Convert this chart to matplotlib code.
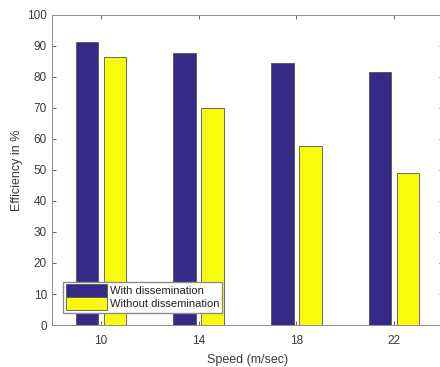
import matplotlib

matplotlib.use("Agg")

import matplotlib.pyplot as plt
import numpy as np

speeds = ["10", "14", "18", "22"]
with_dissemination = [91.2, 87.6, 84.6, 81.7]
without_dissemination = [86.3, 70.1, 57.6, 48.9]

plt.rcParams["font.family"] = ["Liberation Sans", "DejaVu Sans"]

BLUE = "#352a87"
YELLOW = "#f9fb0e"
EDGE = "#555555"
AXIS_GRAY = "#4d4d4d"
TEXT_GRAY = "#3a3a3a"

fig = plt.figure(figsize=(4.4, 3.67), dpi=100)
ax = fig.add_axes([0.118, 0.1144, 0.889, 0.845])

x = np.arange(1, len(speeds) + 1)
width = 0.23
offset = 0.143
ax.bar(x - offset, with_dissemination, width, color=BLUE, edgecolor=EDGE,
       linewidth=0.6, label="With dissemination")
ax.bar(x + offset, without_dissemination, width, color=YELLOW, edgecolor=EDGE,
       linewidth=0.6, label="Without dissemination")

ax.set_xlim(0.5, 4.5)
ax.set_ylim(0, 100)
ax.set_xticks(x)
ax.set_xticklabels(speeds)
ax.set_yticks(np.arange(0, 101, 10))
ax.tick_params(direction="in", top=True, right=True, length=3, width=0.6,
               color=AXIS_GRAY, labelcolor=TEXT_GRAY, labelsize=8.5)
ax.tick_params(axis="x", pad=7)
for spine in ax.spines.values():
    spine.set_color("#8c8c8c")
    spine.set_linewidth(0.7)

ax.set_xlabel("Speed (m/sec)", fontsize=9, color=TEXT_GRAY, labelpad=5)
ax.set_ylabel("Efficiency in %", fontsize=9, color=TEXT_GRAY, labelpad=3)

leg = ax.legend(loc="lower left", bbox_to_anchor=(0.028, 0.04), fontsize=8,
                fancybox=False, framealpha=1, edgecolor="#8c8c8c",
                handlelength=3.7, handleheight=1.35, borderpad=0.25,
                labelspacing=0.05, handletextpad=0.3, borderaxespad=0)
for text in leg.get_texts():
    text.set_color("#222222")

fig.savefig("out.png", dpi=100)
